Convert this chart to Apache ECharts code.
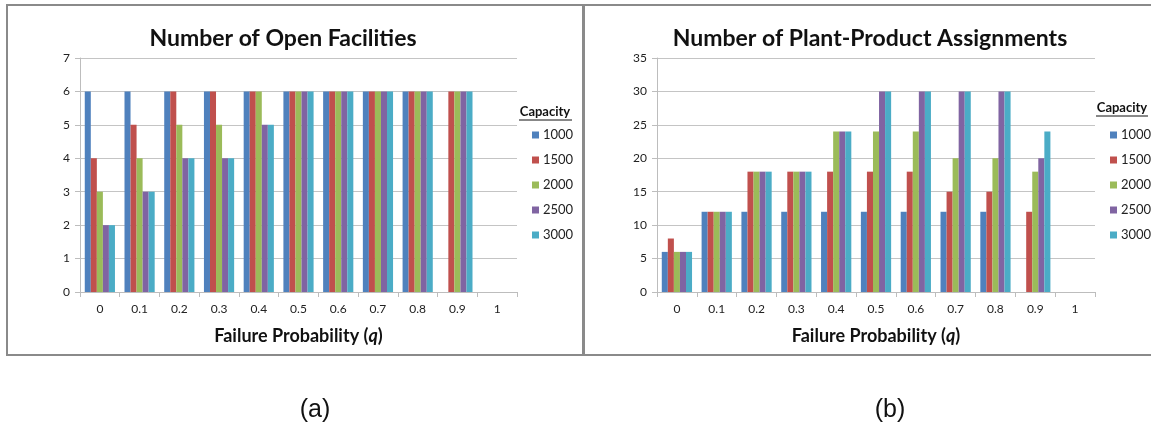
<!DOCTYPE html>
<html>
<head>
<meta charset="utf-8">
<script src="https://cdn.jsdelivr.net/npm/echarts@6/dist/echarts.min.js"></script>
<style>
  html, body { margin: 0; padding: 0; background: #fff; }
  #chart { width: 1151px; height: 431px; }
</style>
</head>
<body>
<div id="chart"></div>
<script>
// Failure probability categories shared by both panels
const qLabels = ['0', '0.1', '0.2', '0.3', '0.4', '0.5', '0.6', '0.7', '0.8', '0.9', '1'];
const capacities = ['1000', '1500', '2000', '2500', '3000'];
const palette = ['#4F81BD', '#C0504D', '#9BBB59', '#8064A2', '#4BACC6'];

// (a) Number of open facilities, one array per capacity (null = no solution)
const facilities1000 = [6, 6, 6, 6, 6, 6, 6, 6, 6, null, null];
const facilities1500 = [4, 5, 6, 6, 6, 6, 6, 6, 6, 6, null];
const facilities2000 = [3, 4, 5, 5, 6, 6, 6, 6, 6, 6, null];
const facilities2500 = [2, 3, 4, 4, 5, 6, 6, 6, 6, 6, null];
const facilities3000 = [2, 3, 4, 4, 5, 6, 6, 6, 6, 6, null];

// (b) Number of plant-product assignments, one array per capacity
const assign1000 = [6, 12, 12, 12, 12, 12, 12, 12, 12, null, null];
const assign1500 = [8, 12, 18, 18, 18, 18, 18, 15, 15, 12, null];
const assign2000 = [6, 12, 18, 18, 24, 24, 24, 20, 20, 18, null];
const assign2500 = [6, 12, 18, 18, 24, 30, 30, 30, 30, 20, null];
const assign3000 = [6, 12, 18, 18, 24, 30, 30, 30, 30, 24, null];

const facilitiesData = [facilities1000, facilities1500, facilities2000, facilities2500, facilities3000];
const assignData = [assign1000, assign1500, assign2000, assign2500, assign3000];

const FONT = 'Lato, "Open Sans", sans-serif';
const gridColor = '#c4c4c4';

function xAxisFor(gridIndex) {
  return {
    type: 'category',
    gridIndex,
    data: qLabels,
    axisLine: { lineStyle: { color: '#bdbdbd', width: 1 } },
    axisTick: { show: true, length: 5, lineStyle: { color: '#bdbdbd' } },
    axisLabel: { color: '#222', fontFamily: FONT, fontSize: 12, margin: 11 },
    name: '{t|Failure Probability (}{q|q}{t|)}',
    nameLocation: 'middle',
    nameGap: 35,
    nameTextStyle: {
      rich: {
        t: { fontFamily: FONT, fontSize: 18, fontWeight: 'bold', color: '#111' },
        q: { fontFamily: FONT, fontSize: 18, fontWeight: 'bold', fontStyle: 'italic', color: '#111' }
      }
    }
  };
}

function yAxisFor(gridIndex, max, interval) {
  return {
    type: 'value',
    gridIndex,
    min: 0,
    max,
    interval,
    axisLine: { show: true, lineStyle: { color: '#bdbdbd', width: 1 } },
    axisTick: { show: true, length: 5, lineStyle: { color: '#bdbdbd' } },
    axisLabel: { color: '#222', fontFamily: FONT, fontSize: 12, margin: 10 },
    splitLine: { lineStyle: { color: gridColor, width: 1 } }
  };
}

function barSeries(dataSets, axisIndex) {
  return dataSets.map((values, i) => ({
    name: capacities[i],
    type: 'bar',
    xAxisIndex: axisIndex,
    yAxisIndex: axisIndex,
    data: values,
    barGap: '0%',
    barCategoryGap: '24%',
    itemStyle: { color: palette[i] },
    emphasis: { disabled: true }
  }));
}

function legendAt(left) {
  return {
    orient: 'vertical',
    left,
    top: 123,
    data: capacities,
    icon: 'rect',
    itemWidth: 7,
    itemHeight: 7,
    itemGap: 11,
    selectedMode: false,
    textStyle: { fontFamily: FONT, fontSize: 13, color: '#222', lineHeight: 14, padding: [0, 0, 0, -1] }
  };
}

const chart = echarts.init(document.getElementById('chart'), null, { renderer: 'canvas' });

chart.setOption({
  animation: false,
  color: palette,
  title: [
    {
      text: 'Number of Open Facilities',
      left: 278, top: 22, textAlign: 'center',
      textStyle: { fontFamily: FONT, fontSize: 23, fontWeight: 'bold', color: '#111' }
    },
    {
      text: 'Number of Plant-Product Assignments',
      left: 865, top: 22, textAlign: 'center',
      textStyle: { fontFamily: FONT, fontSize: 23, fontWeight: 'bold', color: '#111' }
    }
  ],
  legend: [legendAt(527), legendAt(1105)],
  grid: [
    { left: 80, top: 58, width: 437, height: 234 },
    { left: 657, top: 58, width: 438, height: 234 }
  ],
  xAxis: [xAxisFor(0), xAxisFor(1)],
  yAxis: [yAxisFor(0, 7, 1), yAxisFor(1, 35, 5)],
  series: [...barSeries(facilitiesData, 0), ...barSeries(assignData, 1)],
  graphic: [
    // panel frames
    { type: 'rect', shape: { x: 7, y: 5, width: 576, height: 350 }, style: { fill: 'none', stroke: '#8a8a8a', lineWidth: 2 }, silent: true },
    { type: 'rect', shape: { x: 584, y: 5, width: 600, height: 350 }, style: { fill: 'none', stroke: '#8a8a8a', lineWidth: 2 }, silent: true },
    // legend headings
    { type: 'text', x: 545, y: 112, style: { text: 'Capacity', fontFamily: FONT, fontSize: 13, fontWeight: 'bold', fill: '#111', align: 'center', verticalAlign: 'middle' } },
    { type: 'line', shape: { x1: 519, y1: 120, x2: 572, y2: 120 }, style: { stroke: '#111', lineWidth: 1 } },
    { type: 'text', x: 1122, y: 108, style: { text: 'Capacity', fontFamily: FONT, fontSize: 13, fontWeight: 'bold', fill: '#111', align: 'center', verticalAlign: 'middle' } },
    { type: 'line', shape: { x1: 1096, y1: 116, x2: 1148, y2: 116 }, style: { stroke: '#111', lineWidth: 1 } },
    // panel captions
    { type: 'text', x: 315, y: 410, style: { text: '(a)', fontFamily: '"Liberation Sans", Arial, sans-serif', fontSize: 25, fill: '#111', align: 'center', verticalAlign: 'middle' } },
    { type: 'text', x: 890, y: 410, style: { text: '(b)', fontFamily: '"Liberation Sans", Arial, sans-serif', fontSize: 25, fill: '#111', align: 'center', verticalAlign: 'middle' } }
  ]
});
</script>
</body>
</html>
